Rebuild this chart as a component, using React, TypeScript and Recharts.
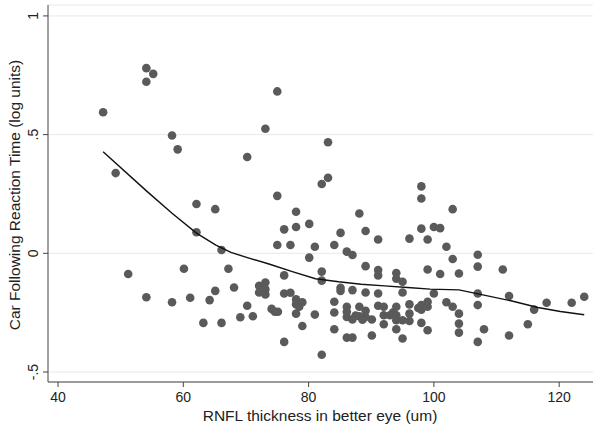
import { ScatterChart, Scatter, XAxis, YAxis, CartesianGrid, Label } from 'recharts';

// RNFL thickness (um) and car following reaction time (log units)
const rnfl = [
  47.2, 49.2, 51.2, 54.1, 54.1, 55.2, 54.1, 58.2, 59.1, 58.2, 60.1, 61.1, 62.1, 62.1, 63.2, 64.2,
  65.1, 65.1, 66.1, 66.1, 67.2, 68.1, 69.1, 70.2, 70.2, 71.1, 72.1, 72.1, 73.1, 73.1, 73.1, 73.1,
  74.1, 74.6, 75.1, 75.0, 75.0, 75.0, 76.1, 76.1, 76.1, 76.1, 77.1, 77.1, 78.0, 78.0, 78.0, 78.0,
  78.0, 79.0, 79.0, 78.5, 80.1, 80.1, 81.0, 81.0, 82.1, 82.1, 82.1, 82.1, 83.1, 83.1, 84.1, 84.1,
  84.1, 84.1, 85.1, 85.1, 85.1, 86.1, 86.1, 86.1, 86.1, 86.1, 87.0, 87.0, 87.0, 87.0, 88.1, 88.1,
  88.1, 89.1, 89.1, 89.1, 89.1, 89.1, 90.1, 90.1, 91.1, 91.1, 91.1, 91.1, 91.1, 92.0, 92.0, 92.0,
  93.0, 94.0, 94.0, 94.0, 94.0, 94.0, 94.0, 95.0, 95.0, 95.0, 95.0, 96.1, 96.1, 96.1, 96.1, 98.0,
  98.0, 98.0, 98.0, 98.0, 98.0, 99.0, 99.0, 99.0, 99.0, 99.0, 100.0, 101.0, 100.0, 101.0, 102.0,
  102.0, 103.0, 103.0, 103.0, 104.0, 104.0, 104.0, 104.0, 107.0, 107.0, 107.0, 107.0, 107.0, 108.0,
  111.0, 112.0, 112.0, 115.0, 116.0, 118.0, 122.0, 124.0, 87.5, 93.5, 88.6, 97.5,
];
const reaction = [
  0.594, 0.338, -0.087, 0.78, 0.723, 0.756, -0.185, 0.496, 0.438, -0.206, -0.065, -0.187, 0.208, 0.089, -0.293, -0.197,
  0.186, -0.158, 0.014, -0.293, -0.065, -0.144, -0.269, 0.406, -0.221, -0.265, -0.137, -0.165, 0.525, -0.123, -0.151, -0.173,
  -0.234, -0.246, -0.246, 0.682, 0.242, 0.035, 0.101, -0.093, -0.169, -0.373, 0.035, -0.166, 0.175, 0.111, -0.194, -0.214,
  -0.254, -0.206, -0.306, -0.225, 0.124, -0.018, 0.028, -0.258, 0.292, -0.077, -0.115, -0.427, 0.318, 0.468, 0.035, -0.204,
  -0.249, -0.32, 0.086, -0.145, -0.158, 0.007, -0.225, -0.246, -0.268, -0.355, -0.007, -0.155, -0.279, -0.355, 0.168, -0.225,
  -0.265, 0.094, -0.054, -0.165, -0.242, -0.268, -0.279, -0.346, 0.058, -0.07, -0.093, -0.169, -0.221, -0.225, -0.261, -0.299,
  -0.261, -0.083, -0.107, -0.225, -0.261, -0.282, -0.32, -0.12, -0.165, -0.282, -0.359, 0.062, -0.215, -0.254, -0.285, 0.282,
  0.231, 0.104, -0.218, -0.237, -0.293, 0.058, -0.068, -0.204, -0.225, -0.324, 0.111, 0.106, -0.169, -0.087, 0.028,
  -0.206, 0.186, -0.024, -0.225, -0.085, -0.254, -0.296, -0.334, -0.006, -0.056, -0.169, -0.218, -0.373, -0.32,
  -0.068, -0.18, -0.346, -0.299, -0.237, -0.208, -0.208, -0.183, -0.262, -0.248, -0.28, -0.23,
];

// lowess smoother
const lowessX = [47.2, 54.2, 58.2, 62.1, 65.2, 67.6, 70.1, 73.8, 77.4, 81.1, 84.8, 88.4, 92.1, 95.8, 99.4, 104.0, 108.0, 112.3, 116.6, 120.2, 124.0];
const lowessY = [0.428, 0.261, 0.169, 0.085, 0.035, 0.004, -0.017, -0.046, -0.077, -0.107, -0.12, -0.13, -0.137, -0.144, -0.151, -0.154, -0.176, -0.2, -0.228, -0.245, -0.259];

const xTicks = [40, 60, 80, 100, 120];
const yTicks = [-0.5, 0, 0.5, 1];
const yTickLabels = ['-.5', '0', '.5', '1'];

const points = rnfl.map((x, i) => ({ x, y: reaction[i] }));
const smooth = lowessX.map((x, i) => ({ x, y: lowessY[i] }));

const FONT = "'Liberation Sans', Arial, sans-serif";

const Dot = (p: any) => <circle cx={p.cx} cy={p.cy} r={4.3} fill="#5a5a5a" />;
const NoDot = () => <g />;

const YTick = (p: any) => {
  const i = yTicks.indexOf(p.payload.value);
  const x = p.x - 5;
  return (
    <text
      x={x}
      y={p.y}
      transform={`rotate(-90, ${x}, ${p.y})`}
      textAnchor="middle"
      fontSize={14}
      fontFamily={FONT}
      fill="#222"
    >
      {i >= 0 ? yTickLabels[i] : p.payload.value}
    </text>
  );
};

export default function App() {
  return (
    <div style={{ position: 'absolute', left: 0, top: 0, background: '#fff' }}>
      <ScatterChart width={602} height={432} margin={{ top: 5, right: 9, bottom: 0, left: 0 }}>
        <CartesianGrid vertical={false} stroke="#e8e8e8" />
        <XAxis
          type="number"
          dataKey="x"
          domain={[38.4, 125.4]}
          ticks={xTicks}
          allowDataOverflow
          height={50}
          tickSize={5}
          tickMargin={5}
          stroke="#444"
          tick={{ fontSize: 14, fontFamily: FONT, fill: '#222' }}
        >
          <Label
            content={() => (
              <text x={320} y={420.5} textAnchor="middle" fontSize={15.5} fontFamily={FONT} fill="#222">
                RNFL thickness in better eye (um)
              </text>
            )}
          />
        </XAxis>
        <YAxis
          type="number"
          dataKey="y"
          domain={[-0.542, 1.046]}
          ticks={yTicks}
          allowDataOverflow
          width={48}
          tickSize={5}
          tickMargin={0}
          stroke="#444"
          tick={<YTick />}
        >
          <Label
            content={() => (
              <text x={19.5} y={195} transform="rotate(-90, 19.5, 195)" textAnchor="middle" fontSize={15.5} fontFamily={FONT} fill="#222">
                Car Following Reaction Time (log units)
              </text>
            )}
          />
        </YAxis>
        <Scatter data={points} shape={<Dot />} isAnimationActive={false} />
        <Scatter
          data={smooth}
          shape={<NoDot />}
          line={{ stroke: '#111', strokeWidth: 1.4 }}
          lineType="joint"
          isAnimationActive={false}
        />
      </ScatterChart>
    </div>
  );
}
